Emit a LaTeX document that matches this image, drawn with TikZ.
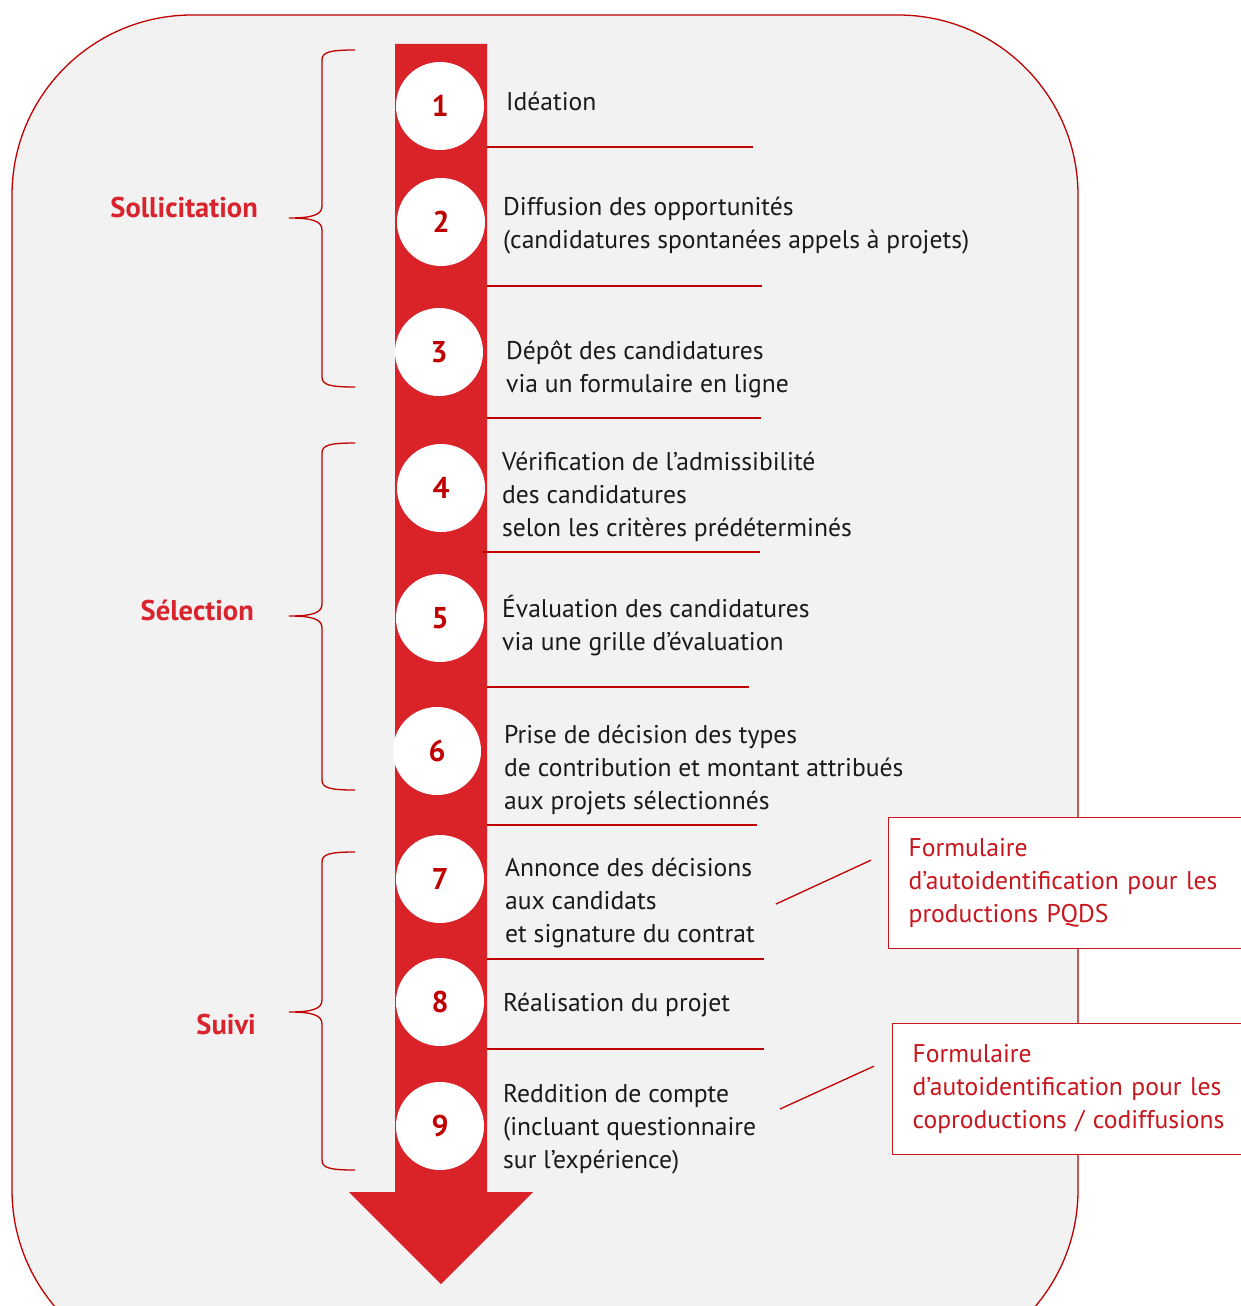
\documentclass[tikz,border=0pt]{standalone}
\usepackage{fontspec}
\setmainfont{PT Sans}
\usepackage{tikz}
\usetikzlibrary{positioning}
\definecolor{bggray}{HTML}{F2F2F2}
\definecolor{arrowred}{HTML}{DA2229}
\definecolor{darkred}{HTML}{C00000}
\definecolor{phasered}{HTML}{D9232D}
\definecolor{noteRed}{HTML}{C8161E}
\definecolor{textblack}{HTML}{1A1A1A}
\tikzset{%
  stepcircle/.style={
    circle,
    fill=white,
    minimum size=88pt,
    inner sep=0pt,
    text=darkred,
    font=\fontsize{30}{30}\selectfont\bfseries
  },
  steptext/.style={
    anchor=base west,
    align=left,
    inner sep=0pt,
    text=textblack,
    font=\fontsize{25.6}{33}\selectfont
  },
  phaselabel/.style={
    anchor=base east,
    inner sep=0pt,
    text=phasered,
    font=\fontsize{28.5}{33}\selectfont\bfseries
  },
  notebox/.style={
    draw=noteRed,
    line width=1.3pt,
    fill=white,
    anchor=north west,
    align=left,
    text width=360pt,
    minimum height=131pt,
    inner xsep=20pt,
    inner ysep=10pt,
    text=noteRed,
    font=\fontsize{25.6}{33}\selectfont
  },
}

\begin{document}
\begin{tikzpicture}[x=1pt,y=-1pt]
      \tikzstyle{rule} = [draw=darkred, line width=1.3pt]
      \useasboundingbox (0,0) rectangle (1241,1306);
      \clip (0,0) rectangle (1241,1306);

      % Background panel
      \draw[fill=bggray, draw=darkred, line width=1.3pt, rounded corners=180pt] (12,15) rectangle (1078,1370);

      % Main arrow
      \fill[arrowred] (395,44) -- (487,44) -- (487,1192) -- (533,1192)
        -- (441,1284) -- (349,1192) -- (395,1192) -- cycle;

      % Steps
      \node[stepcircle] (c1) at (440,106) {1};
      \node[stepcircle] (c2) at (441,222) {2};
      \node[stepcircle] (c3) at (439,352) {3};
      \node[stepcircle] (c4) at (441,488) {4};
      \node[stepcircle] (c5) at (440,618) {5};
      \node[stepcircle] (c6) at (437,751) {6};
      \node[stepcircle] (c7) at (440,879) {7};
      \node[stepcircle] (c8) at (440,1002) {8};
      \node[stepcircle] (c9) at (440,1126) {9};

      % (base = baseline of the last line)
      \node[steptext] (t1) at (506,110) {Idéation};
      \node[steptext] (t2) at (503,248) {Diffusion des opportunités\\(candidatures spontanées appels à projets)};
      \node[steptext] (t3) at (506,392) {Dépôt des candidatures\\via un formulaire en ligne};
      \node[steptext] (t4) at (502,536) {Vérification de l’admissibilité\\des candidatures\\selon les critères prédéterminés};
      \node[steptext] (t5) at (502,650) {Évaluation des candidatures\\via une grille d’évaluation};
      \node[steptext] (t6) at (504,809) {Prise de décision des types\\de contribution et montant attribués\\aux projets sélectionnés};
      \node[steptext] (t7) at (505,942) {Annonce des décisions\\aux candidats\\et signature du contrat};
      \node[steptext] (t8) at (503,1011) {Réalisation du projet};
      \node[steptext] (t9) at (503,1168) {Reddition de compte\\(incluant questionnaire\\sur l’expérience)};

      % Separators between steps
      \foreach \ys/\xs/\xe in {147/487/753, 286/487/762, 418/487/761, 552/483/760,
                               687/487/749, 825/487/757, 959/487/764, 1049/487/764}
        \path[rule] (\xs,\ys) -- (\xe,\ys);

      % Phase braces
      \foreach \ya/\ym/\yb in {50/218/387, 443/616/790, 852/1012/1170}
        \draw[darkred, line width=1.3pt]
          (355,\ya) .. controls (330,\ya) and (322,\ya+2) .. (322,\ya+10)
          -- (322,\ym-12) .. controls (322,\ym-3) and (312,\ym) .. (289,\ym)
          .. controls (312,\ym) and (322,\ym+3) .. (322,\ym+12)
          -- (322,\yb-10) .. controls (322,\yb-2) and (330,\yb) .. (355,\yb);

      \node[phaselabel] (sollicitation) at (258,217) {Sollicitation};
      \node[phaselabel] (selection) at (254,620) {Sélection};
      \node[phaselabel] (suivi) at (256,1034) {Suivi};

      % Forms
      \node[notebox] (form1) at (888,817) {Formulaire\\d’autoidentification pour les\\productions PQDS};
      \node[notebox] (form2) at (892,1023) {Formulaire\\d’autoidentification pour les\\coproductions / codiffusions};

      \coordinate (link7) at (776,904);
      \coordinate (link9) at (780,1109);
      \path[rule] (link7) -- ([shift={(-17,-23)}]form1.west);
      \path[rule] (link9) -- ([shift={(-18,-23)}]form2.west);
    \end{tikzpicture}
\end{document}
